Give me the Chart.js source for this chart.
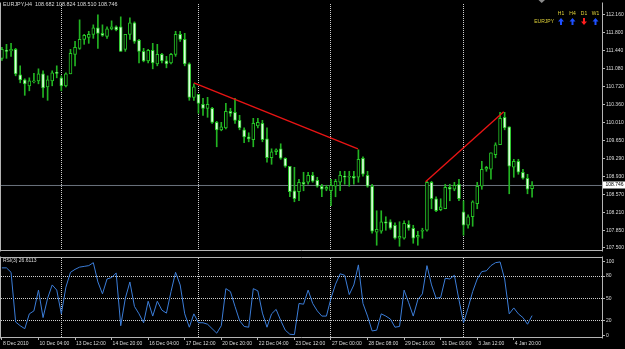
<!DOCTYPE html>
<html>
<head>
<meta charset="utf-8">
<script src="https://cdn.jsdelivr.net/npm/chart.js@4.4.1/dist/chart.umd.min.js"></script>
<style>
  html, body { margin: 0; padding: 0; background: #000; }
  #wrap { position: relative; width: 625px; height: 349px; background: #000; overflow: hidden; }
  #price-wrap { position: absolute; left: 0; top: 0; width: 625px; height: 254px; }
  #rsi-wrap { position: absolute; left: 0; top: 254px; width: 625px; height: 95px; }
</style>
</head>
<body>
<div id="wrap">
  <div id="price-wrap"><canvas id="price-chart"></canvas></div>
  <div id="rsi-wrap"><canvas id="rsi-chart"></canvas></div>
</div>
<script>
// EURJPY H4 candles, 8 Dec 2010 20:00 .. 4 Jan 2011 20:00 (one entry per bar)
const symbol = 'EURJPY';
const period = 'H4';

const opens = [
  111.29, 111.45, 111.44, 111.47, 110.96, 110.86, 110.74, 110.82, 110.84, 110.98,
  110.72, 110.84, 111.01, 110.90, 110.74, 110.98, 111.37, 111.49, 111.67, 111.71,
  111.77, 111.90, 111.79, 111.73, 111.88, 111.92, 111.92, 111.47, 111.77, 112.00,
  111.65, 111.43, 111.24, 111.45, 111.18, 111.37, 111.24, 111.20, 111.37, 111.77,
  111.67, 111.18, 110.51, 110.57, 110.37, 110.29, 110.29, 110.01, 109.86, 109.90,
  110.23, 110.21, 110.05, 109.86, 109.72, 109.66, 109.94, 109.99, 109.68, 109.30,
  109.42, 109.48, 109.29, 109.13, 108.64, 108.62, 108.81, 108.81, 108.95, 108.85,
  108.73, 108.67, 108.64, 108.73, 108.81, 108.93, 108.91, 108.93, 108.91, 109.29,
  108.95, 108.73, 107.81, 107.83, 108.02, 108.02, 107.95, 107.69, 107.69, 107.97,
  107.89, 107.71, 107.83, 107.85, 108.81, 108.48, 108.26, 108.28, 108.71, 108.67,
  108.77, 108.22, 107.95, 108.12, 108.38, 108.73, 109.07, 109.07, 109.36, 109.56,
  110.11, 109.92, 109.11, 109.23, 109.01, 108.89, 108.682
];
const highs = [
  111.51, 111.57, 111.59, 111.49, 111.14, 110.88, 110.90, 110.99, 111.08, 111.04,
  110.94, 111.04, 111.14, 110.94, 111.00, 111.47, 111.63, 112.06, 111.77, 111.83,
  111.96, 112.16, 111.96, 111.92, 112.04, 111.94, 112.12, 111.77, 112.10, 112.02,
  111.67, 111.49, 111.47, 111.59, 111.57, 111.39, 111.33, 111.39, 111.83, 111.83,
  111.79, 111.20, 110.78, 110.57, 110.49, 110.51, 110.31, 110.03, 110.01, 110.39,
  110.29, 110.49, 110.15, 109.90, 109.80, 110.09, 110.09, 110.05, 109.90, 109.48,
  109.48, 109.58, 109.30, 109.13, 109.11, 108.87, 109.01, 109.01, 109.01, 108.91,
  108.77, 108.75, 108.87, 108.87, 109.03, 109.03, 109.03, 109.03, 109.46, 109.32,
  109.03, 108.77, 108.24, 108.24, 108.12, 108.06, 108.00, 108.02, 108.04, 108.04,
  107.95, 107.83, 107.89, 108.83, 108.83, 108.52, 108.48, 108.77, 108.77, 108.81,
  108.87, 108.44, 108.16, 108.44, 108.81, 109.23, 109.13, 109.40, 109.60, 110.21,
  110.21, 109.92, 109.27, 109.27, 109.07, 108.97, 108.824
];
const lows = [
  111.25, 111.29, 111.33, 110.94, 110.80, 110.55, 110.64, 110.80, 110.78, 110.51,
  110.45, 110.74, 110.90, 110.64, 110.72, 110.98, 111.14, 111.47, 111.57, 111.59,
  111.69, 111.49, 111.73, 111.69, 111.86, 111.84, 111.43, 111.43, 111.67, 111.59,
  111.20, 111.22, 111.20, 111.08, 111.14, 111.20, 111.10, 111.18, 111.33, 111.63,
  111.14, 110.45, 110.45, 110.19, 110.15, 110.11, 109.99, 109.52, 109.84, 109.88,
  110.13, 109.99, 109.86, 109.60, 109.62, 109.52, 109.90, 109.62, 109.21, 109.17,
  109.36, 109.27, 109.11, 108.52, 108.42, 108.44, 108.64, 108.77, 108.81, 108.71,
  108.52, 108.64, 108.34, 108.52, 108.64, 108.77, 108.73, 108.77, 108.81, 108.93,
  108.71, 107.79, 107.55, 107.79, 107.85, 107.87, 107.67, 107.53, 107.67, 107.85,
  107.59, 107.55, 107.69, 107.83, 108.28, 108.22, 108.24, 108.28, 108.44, 108.64,
  108.44, 107.75, 107.89, 107.93, 108.28, 108.67, 109.03, 108.87, 109.30, 109.56,
  109.86, 108.58, 108.91, 108.97, 108.87, 108.58, 108.510
];
const closes = [
  111.47, 111.43, 111.47, 110.98, 110.86, 110.78, 110.84, 110.84, 110.98, 110.70,
  110.86, 111.00, 110.99, 110.74, 110.98, 111.39, 111.51, 111.67, 111.75, 111.77,
  111.90, 111.79, 111.75, 111.88, 111.92, 111.86, 111.43, 111.77, 112.00, 111.63,
  111.43, 111.24, 111.45, 111.20, 111.37, 111.24, 111.18, 111.37, 111.77, 111.67,
  111.18, 110.51, 110.72, 110.39, 110.29, 110.37, 110.01, 109.86, 109.92, 110.23,
  110.19, 110.05, 109.90, 109.72, 109.68, 109.99, 110.01, 109.66, 109.30, 109.42,
  109.46, 109.29, 109.13, 108.62, 108.48, 108.81, 108.77, 108.95, 108.83, 108.73,
  108.67, 108.71, 108.75, 108.83, 108.95, 108.91, 108.93, 108.89, 109.27, 108.97,
  108.73, 107.83, 107.87, 108.02, 107.99, 107.89, 107.69, 107.73, 107.99, 107.89,
  107.69, 107.75, 107.85, 108.81, 108.48, 108.24, 108.32, 108.71, 108.67, 108.75,
  108.48, 107.95, 108.12, 108.42, 108.73, 109.07, 109.11, 109.40, 109.56, 110.09,
  109.90, 109.13, 109.23, 109.01, 108.89, 108.67, 108.746
];

// RSI(3) of the closes, as plotted in the lower window
const rsiPeriod = 3;
const rsiValues = [
  91, 91, 85, 18, 13, 9, 29, 33, 61, 24,
  50, 68, 61, 29, 65, 85, 89, 92, 93, 94,
  98, 72, 56, 76, 78, 84, 13, 50, 72, 39,
  29, 17, 46, 26, 46, 34, 30, 59, 85, 68,
  29, 11, 29, 17, 17, 15, 9, 3, 13, 63,
  59, 39, 20, 12, 11, 63, 60, 30, 11, 29,
  35, 20, 7, 1.5, 1, 43, 42, 61, 43, 33,
  26, 26, 50, 69, 83, 81, 55, 68, 95, 43,
  26, 6, 7, 29, 26, 22, 11, 12, 61, 44,
  26, 48, 56, 94, 68, 50, 51, 77, 76, 81,
  48, 17, 37, 59, 76, 86, 87, 94, 98, 99,
  76, 29, 37, 29, 24, 15, 26.6113
];
const rsiLevels = [20, 50, 80];
const rsiTicks = [0, 20, 50, 80, 100];

// price axis labels as printed on the right
const priceTicks = [
  112.160, 111.800, 111.440, 111.080, 110.720, 110.360, 110.010,
  109.650, 109.290, 108.930, 108.570, 108.210, 107.850, 107.500
];

// time axis: bar index of each label, and its text
const timeLabelBars = [0, 8, 16, 24, 32, 40, 48, 56, 64, 72, 80, 88, 96, 104, 112];
const timeLabels = [
  '8 Dec 2010', '10 Dec 04:00', '13 Dec 12:00', '14 Dec 20:00', '16 Dec 04:00',
  '17 Dec 12:00', '20 Dec 20:00', '22 Dec 04:00', '23 Dec 12:00', '27 Dec 00:00',
  '28 Dec 08:00', '29 Dec 16:00', '31 Dec 00:00', '3 Jan 12:00', '4 Jan 20:00'
];
// weekly period separators (bar of Monday 00:00)
const separatorBars = [13, 43, 72, 101];

// two hand-drawn trend lines
const trend1Bars = [42.0, 77.9];
const trend1Prices = [110.80, 109.48];
const trend2Bars = [92.7, 109.8];
const trend2Prices = [108.82, 110.22];

// multi timeframe trend panel
const trendFrames = ['H1', 'H4', 'D1', 'W1'];
const trendUp = [true, true, false, true];

// ---- styling ----
const FONT = 'Liberation Sans, Arial, sans-serif';
const TEXT = '#dcdcdc';
const AXIS = '#b4b4b4';
const DOTS = '#cfcfcf';
const WICK = '#22b422';
const EDGE = '#26c626';
const BULL_FILL = '#000000';
const BEAR_FILL = '#dcffdc';
const TREND = '#e81414';
const BID = '#6a737d';
const RSI_LINE = '#3b7dd8';
const X_MIN = -0.2;
const X_MAX = 131.3;

Chart.defaults.font.family = FONT;
Chart.defaults.font.size = 5;

const bars = closes.map((c, i) => i);
const lastClose = closes[closes.length - 1];

const wickData = bars.map(i => ({ x: i, y: [lows[i], highs[i]] }));
const bodyData = bars.map(i => ({ x: i, y: [Math.min(opens[i], closes[i]), Math.max(opens[i], closes[i])] }));
const bodyFill = bars.map(i => (closes[i] < opens[i] ? BEAR_FILL : BULL_FILL));
const trend1 = trend1Bars.map((b, i) => ({ x: b, y: trend1Prices[i] }));
const trend2 = trend2Bars.map((b, i) => ({ x: b, y: trend2Prices[i] }));
const bidLine = [{ x: X_MIN, y: lastClose }, { x: X_MAX, y: lastClose }];
const rsiData = bars.map(i => ({ x: i, y: rsiValues[i] }));

/**
 * Stroke the panel frame on the requested sides of the chart area
 */
function framePlugin(sides) {
    return {
        id: 'panelFrame',
        afterDraw(chart) {
            const { ctx, chartArea: a } = chart;
            const l = Math.round(a.left) - 0.5, r = Math.round(a.right) + 0.5;
            const t = Math.round(a.top) - 0.5, b = Math.round(a.bottom) + 0.5;
            ctx.save();
            ctx.strokeStyle = AXIS;
            ctx.lineWidth = 1;
            ctx.beginPath();
            if (sides.includes('left')) { ctx.moveTo(l, t - 1); ctx.lineTo(l, b + 1); }
            if (sides.includes('right')) { ctx.moveTo(r, t - 1); ctx.lineTo(r, b + 1); }
            if (sides.includes('top')) { ctx.moveTo(l, t); ctx.lineTo(r, t); }
            if (sides.includes('bottom')) { ctx.moveTo(l, b); ctx.lineTo(r, b); }
            ctx.stroke();
            ctx.restore();
        }
    };
}

function drawArrow(ctx, x, y, up, color) {
    const d = up ? 1 : -1;
    ctx.fillStyle = color;
    ctx.beginPath();
    ctx.moveTo(x, y - 3.5 * d);
    ctx.lineTo(x + 3, y);
    ctx.lineTo(x + 1, y);
    ctx.lineTo(x + 1, y + 3.5 * d);
    ctx.lineTo(x - 1, y + 3.5 * d);
    ctx.lineTo(x - 1, y);
    ctx.lineTo(x - 3, y);
    ctx.closePath();
    ctx.fill();
}

// title, trend panel and bid price box on the price window
const priceOverlay = {
    id: 'priceOverlay',
    afterDraw(chart) {
        const ctx = chart.ctx;
        const n = closes.length - 1;
        ctx.save();
        ctx.font = '5.4px ' + FONT;
        ctx.textBaseline = 'middle';
        ctx.fillStyle = TEXT;
        const title = `${symbol},${period}  ${opens[n].toFixed(3)} ${highs[n].toFixed(3)} ${lows[n].toFixed(3)} ${lastClose.toFixed(3)}`;
        ctx.fillText(title, 3, 5);

        // shift marker
        ctx.fillStyle = '#8a8a8a';
        ctx.beginPath();
        ctx.moveTo(538.5, 0); ctx.lineTo(545, 0); ctx.lineTo(541.7, 3);
        ctx.closePath();
        ctx.fill();

        // trend panel
        ctx.font = '5px ' + FONT;
        const cols = [561, 572.5, 584, 595.5];
        ctx.fillStyle = '#e2d43a';
        ctx.textAlign = 'center';
        trendFrames.forEach((f, i) => ctx.fillText(f, cols[i], 13.5));
        ctx.textAlign = 'right';
        ctx.fillText(symbol, 554, 21.5);
        trendUp.forEach((up, i) => drawArrow(ctx, cols[i], 21.5, up, up ? '#1e50ff' : '#ff1e1e'));

        // bid price box
        const y = chart.scales.y.getPixelForValue(lastClose);
        const a = chart.chartArea;
        ctx.fillStyle = '#ffffff';
        ctx.fillRect(a.right + 1, Math.round(y) - 3.5, 22, 7);
        ctx.fillStyle = '#000000';
        ctx.textAlign = 'left';
        ctx.fillText(lastClose.toFixed(3), a.right + 3.5, Math.round(y));
        ctx.restore();
    }
};

const rsiOverlay = {
    id: 'rsiOverlay',
    afterDraw(chart) {
        const ctx = chart.ctx;
        ctx.save();
        ctx.font = '5px ' + FONT;
        ctx.textBaseline = 'middle';
        ctx.fillStyle = TEXT;
        ctx.fillText(`RSI(${rsiPeriod}) ${rsiValues[rsiValues.length - 1].toFixed(4)}`, 3, 6.5);
        ctx.restore();
    }
};

const separatorAxis = {
    type: 'linear',
    min: X_MIN,
    max: X_MAX,
    offset: false,
    position: 'bottom',
    afterBuildTicks: s => { s.ticks = separatorBars.map(v => ({ value: v })); },
    afterFit: s => { s.height = 0; },
    ticks: { display: false },
    grid: { color: DOTS, drawTicks: false, offset: false },
    border: { display: false, dash: [1, 1] }
};

new Chart(document.getElementById('price-chart'), {
    type: 'bar',
    data: {
        datasets: [
            { type: 'line', data: trend1, borderColor: TREND, borderWidth: 1.4, pointRadius: 0, order: 0 },
            { type: 'line', data: trend2, borderColor: TREND, borderWidth: 1.4, pointRadius: 0, order: 0 },
            {
                type: 'bar', data: bodyData, backgroundColor: bodyFill, borderColor: EDGE,
                borderWidth: 1, borderSkipped: false, barThickness: 3, minBarLength: 1,
                grouped: false, order: 1
            },
            { type: 'bar', data: wickData, backgroundColor: WICK, barThickness: 1, grouped: false, order: 2 },
            { type: 'line', data: bidLine, borderColor: BID, borderWidth: 1, pointRadius: 0, order: 3 }
        ]
    },
    options: {
        responsive: true,
        maintainAspectRatio: false,
        animation: false,
        layout: { padding: { left: 1, right: 0, top: 2, bottom: 2 } },
        plugins: { legend: { display: false }, tooltip: { enabled: false } },
        scales: {
            x: separatorAxis,
            y: {
                type: 'linear',
                position: 'right',
                min: 107.455,
                max: 112.377,
                afterBuildTicks: s => { s.ticks = priceTicks.map(v => ({ value: v })); },
                afterFit: s => { s.width = 23; },
                ticks: {
                    color: TEXT, padding: 1, autoSkip: false,
                    callback: v => Number(v).toFixed(3)
                },
                grid: { drawOnChartArea: false, drawTicks: true, tickLength: 3, color: AXIS },
                border: { display: false }
            }
        }
    },
    plugins: [framePlugin(['left', 'right', 'bottom']), priceOverlay]
});

new Chart(document.getElementById('rsi-chart'), {
    type: 'line',
    data: {
        datasets: [{
            data: rsiData, borderColor: RSI_LINE, borderWidth: 1, pointRadius: 0, tension: 0
        }]
    },
    options: {
        responsive: true,
        maintainAspectRatio: false,
        animation: false,
        layout: { padding: { left: 1, right: 0, top: 1, bottom: 0 } },
        plugins: { legend: { display: false }, tooltip: { enabled: false } },
        scales: {
            x: {
                type: 'linear',
                min: X_MIN,
                max: X_MAX,
                offset: false,
                position: 'bottom',
                afterBuildTicks: s => { s.ticks = timeLabelBars.map(v => ({ value: v })); },
                afterFit: s => { s.height = 12; },
                ticks: {
                    color: TEXT, autoSkip: false, maxRotation: 0, align: 'start',
                    labelOffset: 1, padding: 1,
                    callback: (v, idx) => timeLabels[idx]
                },
                grid: { drawOnChartArea: false, drawTicks: true, tickLength: 3, color: AXIS, offset: false },
                border: { display: false }
            },
            sep: separatorAxis,
            y: {
                type: 'linear',
                position: 'right',
                min: -2.2,
                max: 104.3,
                afterBuildTicks: s => { s.ticks = rsiTicks.map(v => ({ value: v })); },
                afterFit: s => { s.width = 23; },
                ticks: { color: TEXT, padding: 1, autoSkip: false },
                grid: {
                    color: c => (rsiLevels.includes(c.tick.value) ? DOTS : 'rgba(0,0,0,0)'),
                    tickColor: AXIS, tickLength: 3, drawTicks: true
                },
                border: { display: false, dash: [1, 1] }
            }
        }
    },
    plugins: [framePlugin(['left', 'right', 'top', 'bottom']), rsiOverlay]
});
</script>
</body>
</html>
